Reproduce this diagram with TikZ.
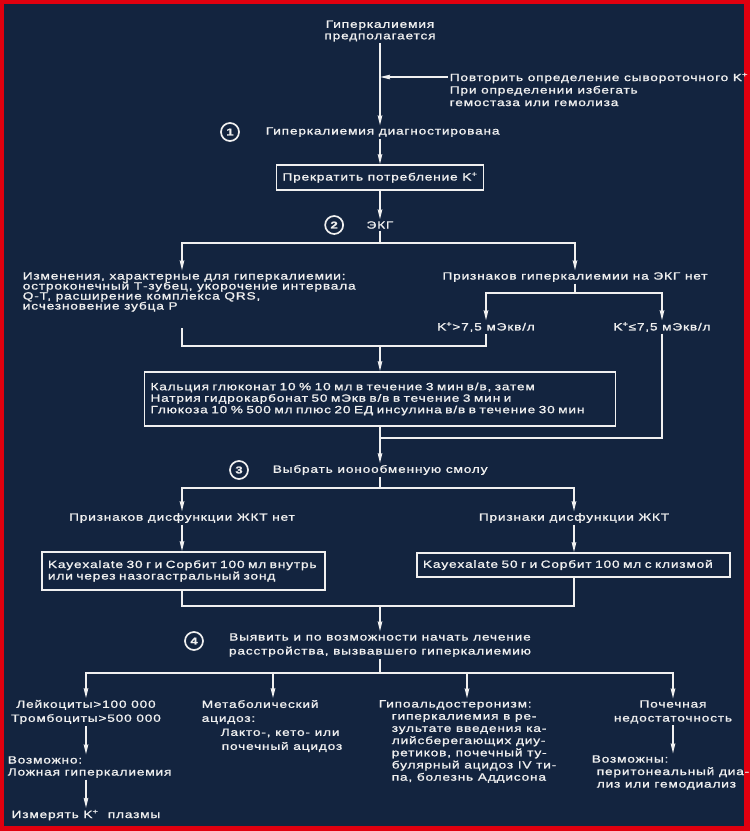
\documentclass[tikz,border=0pt]{standalone}
\usepackage{fontspec}
\setmainfont{Liberation Sans}[FakeStretch=1.3,LetterSpace=8,FakeBold=1.2]
\usetikzlibrary{positioning,arrows.meta}
\definecolor{navy}{HTML}{13243F}
\definecolor{frame}{HTML}{E0000F}
\definecolor{ink}{HTML}{F0F0F0}
\tikzset{
>={Stealth[length=10pt,width=4.5pt,inset=1pt]}, % long narrow arrow heads
every node/.style={text=ink, font=\fontsize{10.5}{11.5}\selectfont}, % white text on the dark page
}

\begin{document}
\begin{tikzpicture}[x=1pt,y=-1pt,color=ink,line width=1.6pt]
\tikzstyle{txt}=[inner sep=1pt,align=center]
\tikzstyle{txtl}=[inner sep=1pt,align=left]
\tikzstyle{stepbox}=[rectangle,draw=ink,line width=1.6pt,align=left,inner xsep=6pt,inner ysep=2pt]
\tikzstyle{num}=[circle,draw=ink,line width=1.7pt,minimum size=18pt,inner sep=0pt,font=\bfseries\fontsize{10}{10}\selectfont]
\tikzstyle{post}=[->,line width=1.6pt]
\useasboundingbox (0,0) rectangle (750,831);
\fill[frame] (0,0) rectangle (750,831);
\fill[navy] (4,4) rectangle (744,826);
\node [txt] (susp) at (380,31) {Гиперкалиемия\\предполагается};
\coordinate (rj) at (380,77);
\node [txtl,anchor=west,font=\fontsize{10.5}{12.5}\selectfont] (rep) at (448,89.5) {Повторить определение сывороточного K\textsuperscript{+}\\При определении избегать\\гемостаза или гемолиза};
\node [txtl,anchor=west] (diag) at (264,132) {Гиперкалиемия диагностирована};
\node [num] (n1) at (230,132) {1};
\node [stepbox,minimum width=207pt,minimum height=25pt,align=center] (stop) at (380,177.5) {Прекратить потребление K\textsuperscript{+}};
\node [txt] (ekg) at (380,225) {ЭКГ};
\node [num] (n2) [left=36pt of ekg.center] {2};
\coordinate (j2) at (380,243);
\node [txtl,anchor=west,font=\fontsize{10.5}{10}\selectfont] (chg) at (21,292) {Изменения, характерные для гиперкалиемии:\\остроконечный Т-зубец, укорочение интервала\\Q-T, расширение комплекса QRS,\\ исчезновение зубца P};
\coordinate (cl) at (182,328);
\node [txt] (noecg) at (575,277) {Признаков гиперкалиемии на ЭКГ нет};
\coordinate (j3) at (575,293);
\node [txt] (khi) at (486,327) {K\textsuperscript{+}>7,5 мЭкв/л};
\node [txt] (klo) at (662,327) {K\textsuperscript{+}≤7,5 мЭкв/л};
\coordinate (m1) at (380,346);
\node [stepbox,text width=459pt,minimum height=54pt] (treat) at (380,399) {Кальция глюконат 10 \% 10 мл в течение 3 мин в/в, затем\\Натрия гидрокарбонат 50 мЭкв в/в в течение 3 мин и\\Глюкоза 10 \% 500 мл плюс 20 ЕД инсулина в/в в течение 30 мин};
\coordinate (m2) at (380,438);
\node [txtl,anchor=west] (sel) at (271,470) {Выбрать ионообменную смолу};
\node [num] (n3) at (239,470) {3};
\coordinate (j4) at (380,488);
\node [txt] (nogi) at (182,518) {Признаков дисфункции ЖКТ нет};
\node [txt] (gi) at (574,518) {Признаки дисфункции ЖКТ};
\node [stepbox,text width=271pt,minimum height=38pt] (kay1) at (183.5,571) {Kayexalate 30 г и Сорбит 100 мл внутрь\\или через назогастральный зонд};
\node [stepbox,text width=301pt,minimum height=24pt] (kay2) at (573.5,565) {Kayexalate 50 г и Сорбит 100 мл с клизмой};
\coordinate (j5) at (380,606);
\node [txt,font=\fontsize{10.5}{14}\selectfont] (cause) at (380,645) {Выявить и по возможности начать лечение\\расстройства, вызвавшего гиперкалиемию};
\node [num] (n4) at (194,641) {4};
\coordinate (j6) at (380,673);
\node [txt,font=\fontsize{10.5}{14}\selectfont] (wbc) at (86,712) {Лейкоциты>100 000\\Тромбоциты>500 000};
\node [txtl,anchor=west,font=\fontsize{10.5}{12}\selectfont] (spur) at (6,767) {Возможно:\\Ложная гиперкалиемия};
\node [txt] (meas) at (86,815) {Измерять K\textsuperscript{+}\ \ плазмы};
\coordinate (c2) at (273,698);
\node [txtl,anchor=west,font=\fontsize{10.5}{14}\selectfont] (meta) at (200,726) {Метаболический\\ацидоз:\\\hspace*{19pt}Лакто-, кето- или\\\hspace*{20pt}почечный ацидоз};
\coordinate (c3) at (467,698);
\node [txtl,anchor=west,font=\fontsize{10.5}{12.2}\selectfont] (hypo) at (377,741.5) {Гипоальдостеронизм:\\\hspace*{13pt}гиперкалиемия в ре-\\\hspace*{13pt}зультате введения ка-\\\hspace*{13pt}лийсберегающих диу-\\\hspace*{13pt}ретиков, почечный ту-\\\hspace*{13pt}булярный ацидоз IV ти-\\\hspace*{13pt}па, болезнь Аддисона};
\node [txt,font=\fontsize{10.5}{14}\selectfont] (renal) at (673,712) {Почечная\\недостаточность};
\node [txtl,anchor=west,font=\fontsize{10.5}{12.5}\selectfont] (poss) at (590,772.5) {Возможны:\\\hspace*{5pt}перитонеальный диа-\\\hspace*{5pt}лиз или гемодиализ};
\draw [post] (susp) -- (susp |- diag.north);
\draw [post] (rep.west |- rj) -- (rj);
\draw [post] (diag.south -| stop.north) -- (stop);
\draw [post] (stop) -- (ekg);
\draw (ekg) -- (j2);
\draw [post] (j2) -| (chg.north -| cl);
\draw [post] (j2) -| (noecg);
\draw (noecg) -- (j3);
\draw [post] (j3) -| (khi);
\draw [post] (j3) -| (klo);
\draw (cl) |- (m1) -| (khi);
\draw [post] (m1) -- (treat);
\draw (klo) |- (m2);
\draw [post] (treat) -- (treat.south |- sel.north);
\draw (j4 |- sel.south) -- (j4);
\draw [post] (j4) -| (nogi);
\draw [post] (j4) -| (gi);
\draw [post] (nogi) -- (kay1.north -| nogi);
\draw [post] (gi) -- (kay2.north -| gi);
\draw (kay1.south -| nogi) |- (j5) -| (kay2.south -| gi);
\draw [post] (j5) -- (cause);
\draw (cause) -- (j6);
\draw [post] (j6) -| (wbc);
\draw [post] (j6) -| (meta.north -| c2);
\draw [post] (j6) -| (hypo.north -| c3);
\draw [post] (j6) -| (renal);
\draw [post] (wbc) -- (wbc.south |- spur.north);
\draw [post] (wbc.south |- spur.south) -- (meas);
\draw [post] (renal) -- (renal.south |- poss.north);
\end{tikzpicture}
\end{document}
